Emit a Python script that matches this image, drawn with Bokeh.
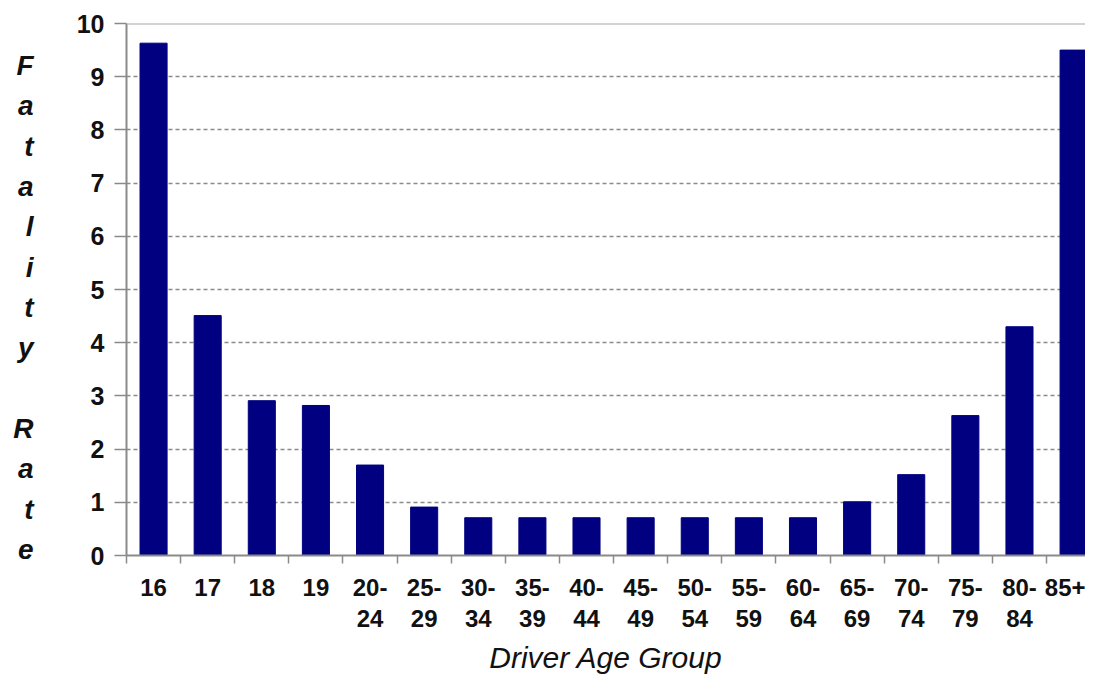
import numpy as np
from bokeh.plotting import figure
from bokeh.models import Range1d, FixedTicker, LinearAxis, Span
from bokeh.embed import file_html
from bokeh.resources import INLINE

# ---- data ----
age_groups = ["16", "17", "18", "19", "20-24", "25-29", "30-34", "35-39", "40-44",
              "45-49", "50-54", "55-59", "60-64", "65-69", "70-74", "75-79", "80-84", "85+"]
fatality_rate = [9.63, 4.51, 2.91, 2.82, 1.70, 0.91, 0.71, 0.71, 0.71,
                 0.71, 0.71, 0.71, 0.71, 1.01, 1.52, 2.63, 4.30, 9.50]
label_line1 = ["16", "17", "18", "19", "20-", "25-", "30-", "35-", "40-",
               "45-", "50-", "55-", "60-", "65-", "70-", "75-", "80-", "85+"]
label_line2 = ["", "", "", "", "24", "29", "34", "39", "44",
               "49", "54", "59", "64", "69", "74", "79", "84", ""]
y_ticks = [0, 1, 2, 3, 4, 5, 6, 7, 8, 9, 10]
y_title = "Fatality Rate"
x_title = "Driver Age Group"

FONT = "Liberation Sans"
GRAY = "#8a8a8a"
INK = "#111111"

n = len(age_groups)
xs = [i + 0.5 for i in range(n)]
bounds = list(range(n + 1))

p = figure(width=1085, height=682, x_range=Range1d(0, 17.72), y_range=Range1d(0, 10),
           output_backend="svg", toolbar_location=None,
           min_border_left=126, min_border_right=0, min_border_top=23, min_border_bottom=127)
p.outline_line_color = None
p.background_fill_color = "white"
p.border_fill_color = "white"

p.vbar(x=xs, top=fatality_rate, width=0.5, fill_color="#000080", line_color="#000080")

# grid
p.xgrid.visible = False
p.ygrid.ticker = FixedTicker(ticks=y_ticks[1:-1])
p.ygrid.grid_line_color = GRAY
p.ygrid.grid_line_dash = "4 3"
p.ygrid.grid_line_width = 1.5
p.add_layout(Span(location=y_ticks[-1], dimension="width", line_color="#a8a8a8", line_width=2))

# y axis
ya = p.yaxis[0]
ya.ticker = FixedTicker(ticks=y_ticks)
ya.axis_line_color = GRAY
ya.axis_line_width = 2
ya.major_tick_out = 12
ya.major_tick_in = 0
ya.major_tick_line_color = GRAY
ya.major_tick_line_width = 1.5
ya.minor_tick_line_color = None
ya.major_label_standoff = 10
ya.major_label_text_font = FONT
ya.major_label_text_font_style = "bold"
ya.major_label_text_font_size = "25px"
ya.major_label_text_color = INK

# stacked vertical y title, drawn as an extra (line-less) axis further left
letter_pos = [9.21 - i * 0.758 for i, ch in enumerate(y_title) if ch != " "]
letters = [ch for ch in y_title if ch != " "]
ya2 = LinearAxis(ticker=FixedTicker(ticks=letter_pos),
                 major_label_overrides={y: ch for y, ch in zip(letter_pos, letters)},
                 axis_line_color=None, major_tick_line_color=None, minor_tick_line_color=None,
                 major_tick_out=0, major_tick_in=0, major_label_standoff=40,
                 major_label_text_font=FONT, major_label_text_font_style="bold italic",
                 major_label_text_font_size="28px", major_label_text_color=INK)
p.add_layout(ya2, "left")

# x axis line 1
xa = p.xaxis[0]
xa.ticker = FixedTicker(ticks=xs, minor_ticks=bounds)
xa.major_label_overrides = {x: l for x, l in zip(xs, label_line1)}
xa.axis_line_color = GRAY
xa.axis_line_width = 2
xa.major_tick_out = 0
xa.major_tick_in = 0
xa.major_tick_line_color = None
xa.minor_tick_out = 8
xa.minor_tick_in = 0
xa.minor_tick_line_color = GRAY
xa.minor_tick_line_width = 1.5
xa.major_label_standoff = 15
xa.major_label_text_font = FONT
xa.major_label_text_font_style = "bold"
xa.major_label_text_font_size = "24px"
xa.major_label_text_color = INK

# x axis line 2 (second row of labels + title)
xa2 = LinearAxis(ticker=FixedTicker(ticks=xs),
                 major_label_overrides={x: l for x, l in zip(xs, label_line2)},
                 axis_line_color=None, major_tick_line_color=None, minor_tick_line_color=None,
                 major_tick_out=0, major_tick_in=0,
                 major_label_standoff=11,
                 major_label_text_font=FONT, major_label_text_font_style="bold",
                 major_label_text_font_size="24px", major_label_text_color=INK,
                 axis_label=x_title, axis_label_standoff=11,
                 axis_label_text_font=FONT, axis_label_text_font_style="italic",
                 axis_label_text_font_size="30px", axis_label_text_color=INK)
p.add_layout(xa2, "below")

open("out.html", "w").write(file_html(p, INLINE))
